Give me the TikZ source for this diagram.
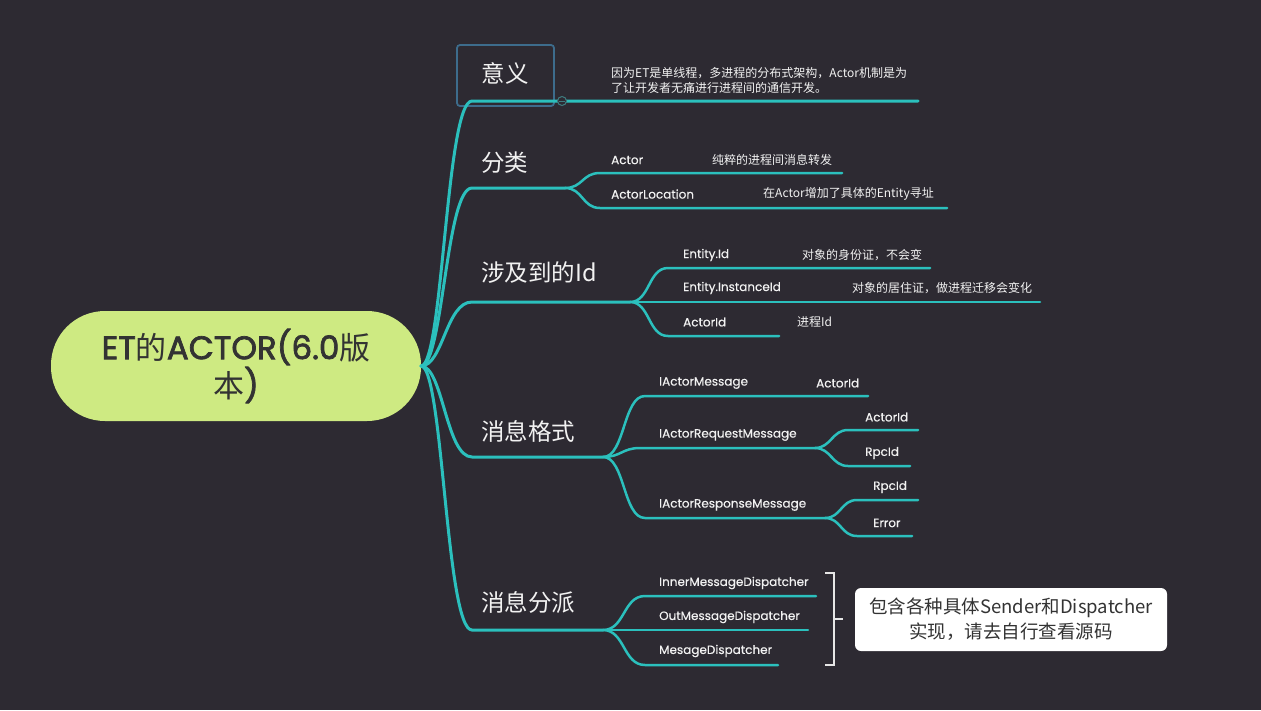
\documentclass[tikz,border=0pt]{standalone}
\usepackage{fontspec}
\newfontfamily\cjk{Noto Sans CJK SC}
\newfontfamily\pop{Poppins}
\newfontfamily\popl{Poppins}[FakeBold=0.4]
\newfontfamily\poproot{Poppins}[FakeBold=2.2]
\definecolor{bgc}{HTML}{2D2A32}
\definecolor{tl}{HTML}{2BC0BD}
\definecolor{rootc}{HTML}{CEEA82}
\definecolor{dark}{HTML}{333333}
\definecolor{fg}{HTML}{F2F2F2}
\definecolor{boxc}{HTML}{3D6C8C}
\definecolor{circc}{HTML}{3F7C80}
\definecolor{brkc}{HTML}{E6E6E6}
\begin{document}
\begin{tikzpicture}[x=1pt,y=-1pt,
  main/.style={draw=tl, line width=3pt, line cap=round},
  sub/.style={draw=tl, line width=2.5pt, line cap=round},
  lbl/.style={text=fg, font=\popl\fontsize{12}{14}\selectfont, anchor=west, inner sep=0},
  clbl/.style={text=fg, font=\cjk\fontsize{12}{15}\selectfont, anchor=west, inner sep=0},
  topic/.style={text=fg, font=\cjk\fontsize{23.5}{26}\selectfont, anchor=west, inner sep=0},
  rootbox/.style={fill=rootc, rounded corners=54pt, minimum width=370pt, minimum height=110pt,
     text=dark, align=center, inner sep=0, font=\poproot\fontsize{32.5}{38}\selectfont},
  notebox/.style={fill=white, rounded corners=6pt, minimum width=312pt, minimum height=63pt,
     text=dark, align=center, inner sep=0, font=\cjk\fontsize{18.5}{25}\selectfont},
  brk/.style={draw=brkc, line width=2pt},
]
\fill[bgc] (0,0) rectangle (1261,710);
\useasboundingbox (0,0) rectangle (1261,710);

% root
\node[rootbox] (root) at (236,366) {ET{\cjk\fontsize{31}{38}\selectfont 的}ACTOR(6.0{\cjk\fontsize{31}{38}\selectfont 版}\\{\cjk\fontsize{31}{38}\selectfont 本})};
\coordinate (hub) at (421,366);

% box round topic 1
\node[draw=boxc, line width=1.8pt, rounded corners=3pt, minimum width=97pt, minimum height=61pt, inner sep=0] (t1box) at (505.5,75.5) {};

% topic labels
\node[topic, anchor=center] (t1) at (505,73) {意义};
\node[topic] (t2) at (481,163) {分类};
\node[topic] (t3) at (481,273) {涉及到的Id};
\node[topic] (t4) at (481,431) {消息格式};
\node[topic] (t5) at (481,603) {消息分派};

% coordinates of branches
\coordinate (a1) at (472,101); \coordinate (b1) at (918,101);
\coordinate (a2) at (472,188); \coordinate (j2) at (565,188);
\coordinate (a3) at (472,302); \coordinate (j3) at (630,302);
\coordinate (a4) at (472,457); \coordinate (j4) at (603,457);
\coordinate (a5) at (472,630); \coordinate (j5) at (603,630);

% main connectors
\draw[main] (hub) .. controls +(22,0) and +(-26,0) .. (a1) -- (b1);
\draw[main] (hub) .. controls +(22,0) and +(-26,0) .. (a2) -- (j2);
\draw[main] (hub) .. controls +(22,0) and +(-26,0) .. (a3) -- (j3);
\draw[main] (hub) .. controls +(22,0) and +(-26,0) .. (a4) -- (j4);
\draw[main] (hub) .. controls +(22,0) and +(-26,0) .. (a5) -- (j5);

% collapse circle
\node[circle, draw=circc, fill=bgc, line width=1pt, minimum size=9pt, inner sep=0] (col) at (562,101) {};
\draw[circc, line width=1pt] ([xshift=2pt]col.west) -- ([xshift=-2pt]col.east);

% description of topic 1
\node[clbl, align=left] (d1) at (611,80) {因为ET是单线程，多进程的分布式架构，Actor机制是为\\了让开发者无痛进行进程间的通信开发。};

% topic 2
\coordinate (e21) at (600,173); \coordinate (f21) at (842,173);
\coordinate (e22) at (600,208); \coordinate (f22) at (947,208);
\draw[sub] (j2) .. controls +(18,0) and +(-18,0) .. (e21) -- (f21);
\draw[sub] (j2) .. controls +(18,0) and +(-18,0) .. (e22) -- (f22);
\node[lbl] (l21) at (611,160) {Actor};
\node[clbl] (v21) at (712,160) {纯粹的进程间消息转发};
\node[lbl] (l22) at (611,194) {ActorLocation};
\node[clbl] (v22) at (763,194) {在Actor增加了具体的Entity寻址};

% topic 3
\coordinate (e31) at (668,268); \coordinate (f31) at (930,268);
\coordinate (f32) at (1040,302);
\coordinate (e33) at (668,336); \coordinate (f33) at (779,336);
\draw[sub] (j3) .. controls +(20,0) and +(-20,0) .. (e31) -- (f31);
\draw[sub] (j3) -- (f32);
\draw[sub] (j3) .. controls +(20,0) and +(-20,0) .. (e33) -- (f33);
\node[lbl] (l31) at (683,255) {Entity.Id};
\node[clbl] (v31) at (802,255) {对象的身份证，不会变};
\node[lbl] (l32) at (683,288) {Entity.InstanceId};
\node[clbl] (v32) at (852,288) {对象的居住证，做进程迁移会变化};
\node[lbl] (l33) at (683,322) {ActorId};
\node[clbl] (v33) at (797,322) {进程Id};

% topic 4
\coordinate (e41) at (645,396); \coordinate (f41) at (868,396);
\coordinate (e42) at (640,448); \coordinate (j42) at (815,448);
\coordinate (e43) at (645,518); \coordinate (j43) at (825,518);
\draw[sub] (j4) .. controls +(22,0) and +(-22,0) .. (e41) -- (f41);
\draw[sub] (j4) .. controls +(18,0) and +(-18,0) .. (e42) -- (j42);
\draw[sub] (j4) .. controls +(22,0) and +(-22,0) .. (e43) -- (j43);
\coordinate (e421) at (848,430); \coordinate (f421) at (918,430);
\coordinate (e422) at (848,466); \coordinate (f422) at (910,466);
\draw[sub] (j42) .. controls +(16,0) and +(-16,0) .. (e421) -- (f421);
\draw[sub] (j42) .. controls +(16,0) and +(-16,0) .. (e422) -- (f422);
\coordinate (e431) at (857,500); \coordinate (f431) at (918,500);
\coordinate (e432) at (857,536); \coordinate (f432) at (912,536);
\draw[sub] (j43) .. controls +(16,0) and +(-16,0) .. (e431) -- (f431);
\draw[sub] (j43) .. controls +(16,0) and +(-16,0) .. (e432) -- (f432);
\node[lbl] (l41) at (659,383) {IActorMessage};
\node[lbl] (v41) at (816,383) {ActorId};
\node[lbl] (l42) at (659,435) {IActorRequestMessage};
\node[lbl] (l421) at (865,417) {ActorId};
\node[lbl] (l422) at (865,453) {RpcId};
\node[lbl] (l43) at (659,505) {IActorResponseMessage};
\node[lbl] (l431) at (873,487) {RpcId};
\node[lbl] (l432) at (873,523) {Error};

% topic 5
\coordinate (e51) at (645,596); \coordinate (f51) at (816,596);
\coordinate (f52) at (808,630);
\coordinate (e53) at (645,665); \coordinate (f53) at (778,665);
\draw[sub] (j5) .. controls +(22,0) and +(-22,0) .. (e51) -- (f51);
\draw[sub] (j5) -- (f52);
\draw[sub] (j5) .. controls +(22,0) and +(-22,0) .. (e53) -- (f53);
\node[lbl] (l51) at (659,583) {InnerMessageDispatcher};
\node[lbl] (l52) at (659,617) {OutMessageDispatcher};
\node[lbl] (l53) at (659,651) {MesageDispatcher};

% bracket and note
\coordinate (k1) at (825,573); \coordinate (k2) at (834,573);
\coordinate (k3) at (834,665); \coordinate (k4) at (825,665);
\coordinate (km) at (834,619); \coordinate (kt) at (843,619);
\draw[brk] (k1) -- (k2) -- (k3) -- (k4);
\draw[brk] (km) -- (kt);
\node[notebox] (note) at (1011,619.5) {包含各种具体Sender和Dispatcher\\实现，请去自行查看源码};
\end{tikzpicture}
\end{document}
